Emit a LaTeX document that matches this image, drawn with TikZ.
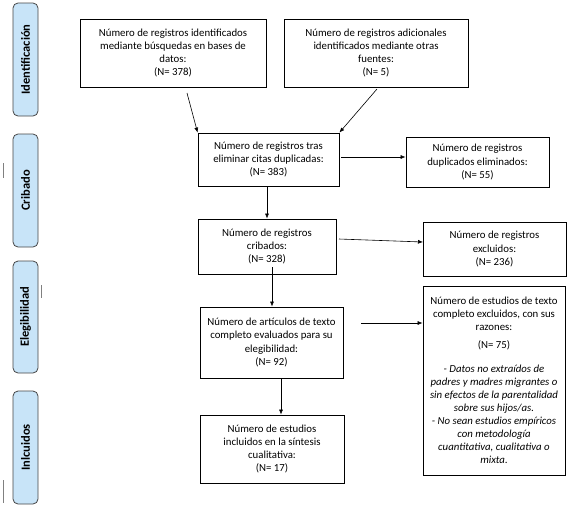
\documentclass[tikz,border=0pt]{standalone}
\usepackage{fontspec}
\setmainfont{Carlito}
\usetikzlibrary{arrows.meta}
\definecolor{sideblue}{RGB}{200,228,248}
\definecolor{sideedge}{RGB}{70,70,70}
\begin{document}
\begin{tikzpicture}[x=1pt,y=-1pt,
  box/.style={draw=black,line width=0.8pt,fill=white,inner sep=0pt,align=center,font=\fontsize{10.8}{13.1}\selectfont},
  side/.style={draw=sideedge,line width=0.8pt,fill=sideblue,rounded corners=5pt},
  sidetext/.style={rotate=90,font=\fontsize{12.5}{14}\selectfont\bfseries},
  arr/.style={-{Latex[length=5pt,width=4pt]},line width=0.6pt,black},
  tick/.style={draw=gray,line width=1pt}]
\fill[white] (0,0) rectangle (568,515);
\useasboundingbox (0,0) rectangle (568,515);
% side labels
\draw[side] (13,3) rectangle (38,116);
\node[sidetext] (sid) at (25.5,59.5) {Identificación};
\draw[side] (13,134) rectangle (38,247);
\node[sidetext] (scr) at (25.5,190.5) {Cribado};
\draw[side] (13,261) rectangle (38,373);
\node[sidetext] (sel) at (25.5,317) {Elegibilidad};
\draw[side] (13,391) rectangle (38,504);
\node[sidetext] (sin) at (25.5,447.5) {Inlcuidos};
% ticks
\draw[tick] (3,163) -- (3,178);
\draw[tick] (41,285) -- (41,298);
\draw[tick] (3,480) -- (3,503);
% boxes
\node[box,minimum width=186pt,minimum height=68pt] (A) at (173,53)
  {Número de registros identificados\\mediante búsquedas en bases de\\datos:\\(N= 378)};
\node[box,minimum width=184pt,minimum height=68pt] (B) at (376,53)
  {Número de registros adicionales\\identificados mediante otras\\fuentes:\\(N= 5)};
\node[box,minimum width=141pt,minimum height=53pt] (C) at (268.5,159.5)
  {Número de registros tras\\eliminar citas duplicadas:\\(N= 383)};
\node[box,minimum width=143pt,minimum height=50pt] (D) at (477.5,162)
  {Número de registros\\duplicados eliminados:\\(N= 55)};
\node[box,minimum width=138pt,minimum height=55pt] (E) at (267,246.5)
  {Número de registros\\cribados:\\(N= 328)};
\node[box,minimum width=143pt,minimum height=54pt] (F) at (494.5,249)
  {Número de registros\\excluidos:\\(N= 236)};
\node[box,minimum width=143pt,minimum height=71pt] (G) at (271.5,342.5)
  {Número de artículos de texto\\completo evaluados para su\\elegibilidad:\\(N= 92)};
\node[box,minimum width=142pt,minimum height=189pt] (H) at (494,380.5)
  {Número de estudios de texto\\completo excluidos, con sus\\razones:\\[5pt](N= 75)\\[10pt]
   \itshape - Datos no extraídos de\\\itshape padres y madres migrantes o\\\itshape sin efectos de la parentalidad\\\itshape sobre sus hijos/as.\\
   \itshape - No sean estudios empíricos\\\itshape con metodología\\\itshape cuantitativa, cualitativa o\\\itshape mixta.};
\node[box,minimum width=144pt,minimum height=68pt] (I) at (272,449)
  {Número de estudios\\incluidos en la síntesis\\cualitativa:\\(N= 17)};
% connectors
\coordinate (a1) at (187,93);
\draw[arr] (a1) -- (C.north west);
\coordinate (b1) at (377,89);
\draw[arr] (b1) -- (C.north east);
\coordinate (c1) at (341,157);
\draw[arr] (c1) -- (D.west |- c1);
\coordinate (c2) at (267,186);
\draw[arr] (c2) -- (E.north -| c2);
\coordinate (e1) at (339,239);
\coordinate (f1) at (423,242);
\draw[arr] (e1) -- (f1);
\coordinate (e2) at (272,267);
\draw[arr] (e2) -- (G.north -| e2);
\coordinate (g1) at (361,323);
\draw[arr] (g1) -- (H.west |- g1);
\coordinate (g2) at (281,378);
\draw[arr] (g2) -- (I.north -| g2);
\end{tikzpicture}
\end{document}
